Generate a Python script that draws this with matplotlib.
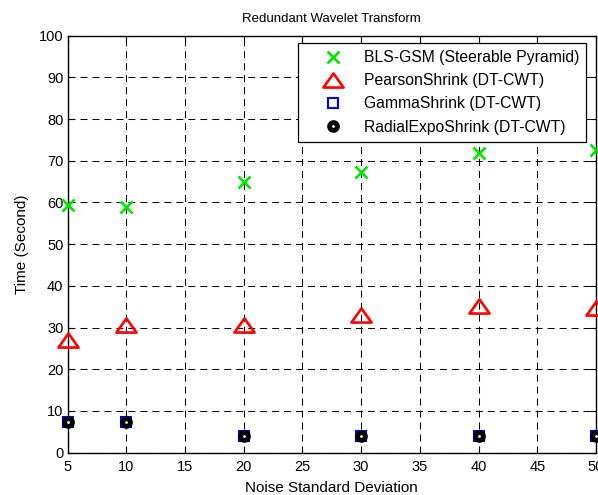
import matplotlib
matplotlib.use("Agg")
import matplotlib.pyplot as plt
from matplotlib.path import Path

plt.rcParams['font.family'] = ['Liberation Sans', 'DejaVu Sans']

noise_sigma = [5, 10, 20, 30, 40, 50]
bls_gsm = [59.5, 58.9, 65.0, 67.4, 71.8, 72.7]
pearson_shrink = [27.0, 30.7, 30.6, 33.0, 35.1, 34.8]
gamma_shrink = [7.4, 7.4, 3.9, 3.9, 4.0, 4.0]
radial_expo_shrink = [7.4, 7.4, 3.9, 3.9, 4.0, 4.0]

series_labels = [
    "BLS-GSM (Steerable Pyramid)",
    "PearsonShrink (DT-CWT)",
    "GammaShrink (DT-CWT)",
    "RadialExpoShrink (DT-CWT)",
]
x_ticks = [5, 10, 15, 20, 25, 30, 35, 40, 45, 50]
y_ticks = [0, 10, 20, 30, 40, 50, 60, 70, 80, 90, 100]

# wide, flat triangle marker
tri = Path([(0, 0.7), (-1, -0.7), (1, -0.7), (0, 0.7)],
           [Path.MOVETO, Path.LINETO, Path.LINETO, Path.CLOSEPOLY])

fig = plt.figure(figsize=(5.98, 4.95), dpi=100)
ax = fig.add_axes([0.1129, 0.0855, 0.9967 - 0.1129, 0.9279 - 0.0855])

ax.plot(noise_sigma, bls_gsm, linestyle='none', marker='x', ms=8.5, mew=1.9,
        color='#00e600', label=series_labels[0], clip_on=False, zorder=5)
ax.plot(noise_sigma, pearson_shrink, linestyle='none', marker=tri, ms=14.5, mew=1.9,
        mec='#ff0000', mfc='none', label=series_labels[1], clip_on=False, zorder=5)
ax.plot(noise_sigma, gamma_shrink, linestyle='none', marker='s', ms=7.0, mew=1.5,
        mec='#0000ff', mfc='none', label=series_labels[2], clip_on=False, zorder=5)
ax.plot(noise_sigma, radial_expo_shrink, linestyle='none', marker='o', ms=5.6, mew=3.5,
        mec='black', mfc='white', label=series_labels[3], clip_on=False, zorder=6)

ax.set_xlim(5, 50)
ax.set_ylim(0, 100)
ax.set_xticks(x_ticks)
ax.set_yticks(y_ticks)
ax.tick_params(direction='in', length=4, width=0.8, top=True, right=True,
               labelsize=10.5, colors='black')
ax.tick_params(axis='x', pad=5)
ax.tick_params(axis='y', pad=3)
for s in ax.spines.values():
    s.set_linewidth(1.0)
    s.set_color('black')

ax.grid(True, color='black', linestyle=(0, (6.7, 4.8)), linewidth=0.75)
ax.set_axisbelow(True)

ax.set_title("Redundant Wavelet Transform", fontsize=9.5, pad=10)
ax.set_xlabel("Noise Standard Deviation", fontsize=11, labelpad=5)
ax.set_ylabel("Time (Second)", fontsize=11, labelpad=7)

leg = ax.legend(loc='upper right', bbox_to_anchor=(586 / 598, 1 - 43 / 495),
                bbox_transform=fig.transFigure, fontsize=11.3, frameon=True,
                fancybox=False, edgecolor='black', framealpha=1, borderpad=0.45,
                labelspacing=0.52, handlelength=3.6, handletextpad=0.15,
                borderaxespad=0, numpoints=1)
leg.get_frame().set_linewidth(0.9)

fig.savefig("out.png", dpi=100, facecolor='white')
